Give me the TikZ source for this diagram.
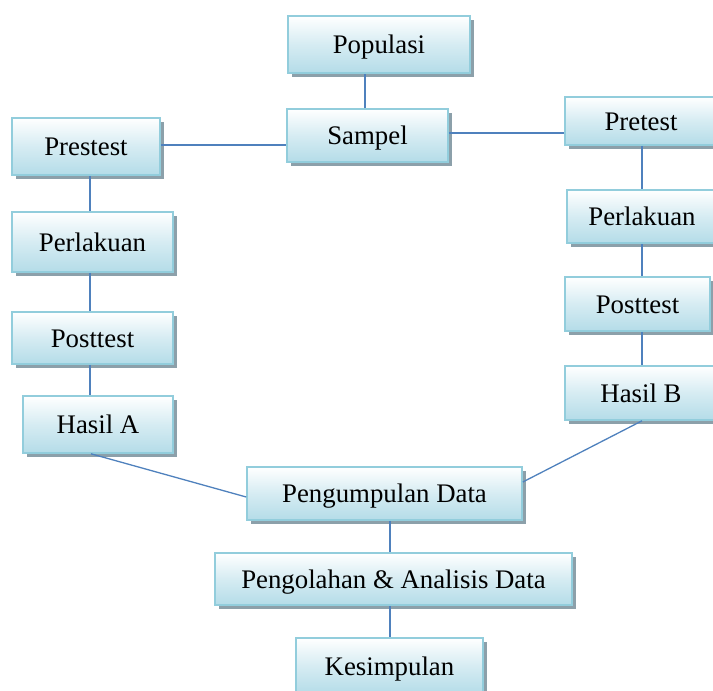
\documentclass[tikz,border=0pt]{standalone}
\usepackage{fontspec}
\setmainfont{Liberation Serif}
\usetikzlibrary{shadows,calc}
\definecolor{boxborder}{RGB}{146,205,220}
\definecolor{boxbottom}{RGB}{180,220,232}
\definecolor{boxshadow}{RGB}{140,160,170}
\definecolor{linkcol}{RGB}{79,129,189}
\tikzset{
  stagebox/.style={rectangle, draw=boxborder, line width=1.6pt,
    top color=white, bottom color=boxbottom, middle color={white!45!boxbottom},
    inner sep=0pt, text height=18pt, text depth=0pt,
    font=\fontsize{26.8}{30}\selectfont,
    drop shadow={shadow xshift=4pt, shadow yshift=-4pt, fill=boxshadow, opacity=1}},
  link/.style={draw=linkcol, line width=1.3pt}
}
\begin{document}
\begin{tikzpicture}[x=1pt,y=-1pt]
\useasboundingbox (0,0) rectangle (713,691);
\node[stagebox, minimum width=182pt, minimum height=57pt] (pop) at (379,44.5) {Populasi};
\node[stagebox, minimum width=161pt, minimum height=53pt] (samp) at (367.5,135.5) {Sampel};
\node[stagebox, minimum width=148pt, minimum height=57pt] (preL) at (86,146.5) {Prestest};
\node[stagebox, minimum width=161pt, minimum height=60pt] (perL) at (92.5,242) {Perlakuan};
\node[stagebox, minimum width=161pt, minimum height=52pt] (postL) at (92.5,338) {Posttest};
\node[stagebox, minimum width=150pt, minimum height=57pt] (hasA) at (98,424.5) {Hasil A};
\node[stagebox, minimum width=152pt, minimum height=48pt] (preR) at (641,121) {Pretest};
\node[stagebox, minimum width=150pt, minimum height=53pt] (perR) at (642,216.5) {Perlakuan};
\node[stagebox, minimum width=145pt, minimum height=54pt] (postR) at (637.5,304) {Posttest};
\node[stagebox, minimum width=152pt, minimum height=54pt] (hasB) at (641,393) {Hasil B};
\node[stagebox, minimum width=275pt, minimum height=53pt] (peng) at (384.5,493.5) {Pengumpulan Data};
\node[stagebox, minimum width=357pt, minimum height=52pt] (olah) at (393.5,579) {Pengolahan \& Analisis Data};
\node[stagebox, minimum width=187pt, minimum height=56pt] (kes) at (389.5,666) {Kesimpulan};

\path[link] (samp.north -| 365,0) -- (pop.south -| 365,0);
\path[link] (preL.east |- 0,145) -- (samp.west |- 0,145);
\path[link] (samp.east |- 0,133) -- (preR.west |- 0,133);
\path[link] (preL.south -| 90,0) -- (perL.north -| 90,0);
\path[link] (perL.south -| 90,0) -- (postL.north -| 90,0);
\path[link] (postL.south -| 90,0) -- (hasA.north -| 90,0);
\path[link] (preR.south -| 642,0) -- (perR.north -| 642,0);
\path[link] (perR.south -| 642,0) -- (postR.north -| 642,0);
\path[link] (postR.south -| 642,0) -- (hasB.north -| 642,0);
\path[link] (hasA.south -| 91,0) -- (peng.west |- 0,497);
\path[link] (hasB.south -| 642,0) -- (peng.east |- 0,482);
\path[link] (peng.south -| 390,0) -- (olah.north -| 390,0);
\path[link] (olah.south -| 390,0) -- (kes.north -| 390,0);
\end{tikzpicture}
\end{document}
